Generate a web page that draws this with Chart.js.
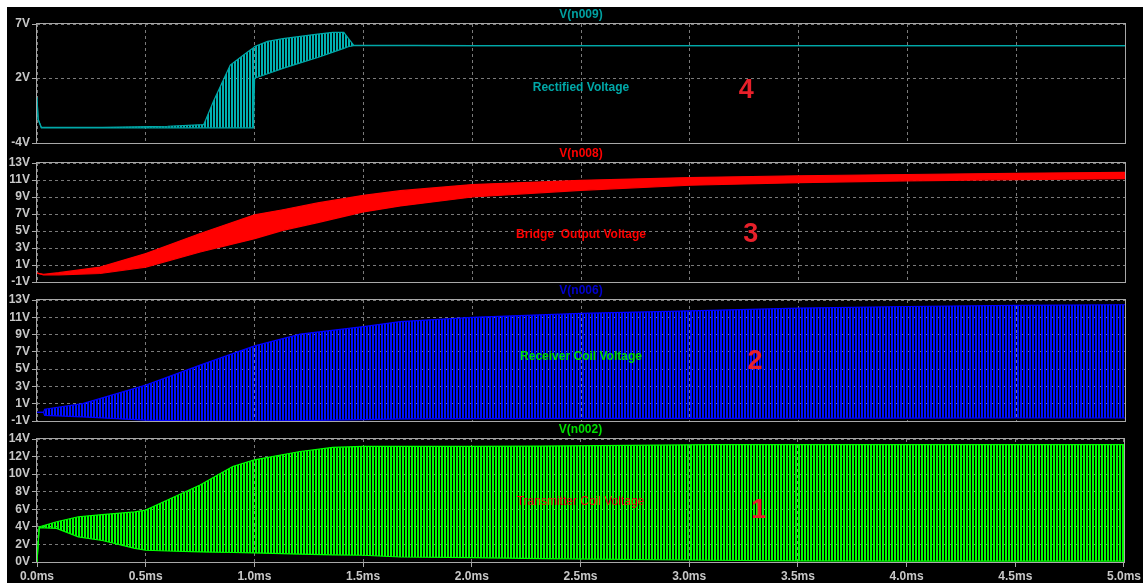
<!DOCTYPE html>
<html>
<head>
<meta charset="utf-8">
<script src="https://cdn.jsdelivr.net/npm/chart.js@4.4.1/dist/chart.umd.min.js"></script>
<style>
  html, body { margin:0; padding:0; background:#000; width:1143px; height:583px; overflow:hidden; }
  canvas { position:absolute; left:0; top:0; }
  #wt { position:absolute; left:0; top:0; width:1143px; height:7px; background:#fff; }
  #wl { position:absolute; left:0; top:0; width:7px; height:583px; background:#fff; }
</style>
</head>
<body>
<canvas id="c1" width="1143" height="583"></canvas>
<canvas id="c2" width="1143" height="583"></canvas>
<canvas id="c3" width="1143" height="583"></canvas>
<canvas id="c4" width="1143" height="583"></canvas>
<div id="wt"></div><div id="wl"></div>
<script>
// ---------- data (time in ms, values in V) ----------
const timeTicks = [0, 0.5, 1.0, 1.5, 2.0, 2.5, 3.0, 3.5, 4.0, 4.5, 5.0];

// V(n009) Rectified Voltage — envelope of the waveform
const tealT     = [0, 0.005, 0.02, 0.3, 0.6, 0.766, 0.812, 0.835, 0.888, 0.94, 0.98, 0.995, 1.0, 1.06, 1.13, 1.21, 1.29, 1.36, 1.41, 1.43, 1.455, 2.0, 3.0, 4.0, 5.0];
const tealUpper = [0.2, -1.8, -2.55, -2.55, -2.45, -2.3, -0.1, 0.9, 3.2, 4.0, 4.6, 4.8, 4.93, 5.39, 5.64, 5.85, 6.07, 6.22, 6.22, 5.7, 5.05, 5.0, 5.0, 5.0, 5.0];
const tealLower = [0.2, -1.8, -2.6, -2.6, -2.6, -2.6, -2.6, -2.6, -2.6, -2.6, -2.6, -2.6, 2.0, 2.4, 2.9, 3.4, 3.9, 4.4, 4.75, 4.9, 5.0, 5.0, 5.0, 5.0, 5.0];
const tealTicks = [-4, 2, 7];

// V(n008) Bridge Output Voltage
const redT     = [0, 0.03, 0.1, 0.29, 0.5, 0.75, 1.0, 1.13, 1.29, 1.5, 1.67, 2.0, 2.5, 3.0, 3.5, 4.0, 4.5, 5.0];
const redUpper = [0.05, -0.1, 0.1, 0.76, 2.34, 4.7, 6.9, 7.5, 8.3, 9.2, 9.75, 10.46, 10.96, 11.28, 11.5, 11.65, 11.78, 11.9];
const redLower = [0.05, -0.15, -0.15, 0.0, 0.76, 2.53, 4.1, 5.08, 5.99, 7.24, 7.95, 9.0, 9.79, 10.38, 10.69, 10.9, 11.05, 11.16];
const redTicks = [-1, 1, 3, 5, 7, 9, 11, 13];

// V(n006) Receiver Coil Voltage
const blueT     = [0, 0.03, 0.035, 0.21, 0.5, 0.75, 1.0, 1.21, 1.5, 1.67, 2.0, 2.5, 3.0, 3.5, 4.0, 4.5, 5.0];
const blueUpper = [0, 0, 0.36, 1.02, 3.15, 5.47, 7.69, 9.05, 9.93, 10.5, 11.0, 11.45, 11.75, 12.07, 12.25, 12.38, 12.45];
const blueLower = [0, 0, -0.34, -0.53, -0.9, -1.0, -1.0, -0.95, -0.85, -0.75, -0.72, -0.7, -0.7, -0.68, -0.66, -0.65, -0.65];
const blueTicks = [-1, 1, 3, 5, 7, 9, 11, 13];

// V(n002) Transmitter Coil Voltage
const greenT     = [0, 0.01, 0.09, 0.19, 0.3, 0.45, 0.5, 0.6, 0.75, 0.9, 1.0, 1.21, 1.36, 1.5, 1.67, 2.0, 2.32, 3.1, 3.5, 4.0, 5.0];
const greenUpper = [0, 4.0, 4.58, 5.15, 5.4, 5.7, 5.91, 7.06, 8.77, 10.87, 11.63, 12.58, 13.04, 13.15, 13.16, 13.16, 13.2, 13.35, 13.35, 13.35, 13.35];
const greenLower = [0, 3.9, 3.82, 2.86, 2.45, 1.55, 1.34, 1.25, 1.15, 1.08, 1.03, 0.9, 0.82, 0.77, 0.57, 0.5, 0.39, 0.2, 0.12, 0.1, 0.1];
const greenTicks = [0, 2, 4, 6, 8, 10, 12, 14];

// trace names and annotation texts (position given in chart units: ms, V)
const traceNames = ['V(n009)', 'V(n008)', 'V(n006)', 'V(n002)'];
const noteText   = ['Rectified Voltage', 'Bridge  Output Voltage', 'Receiver Coil Voltage', 'Transmitter Coil Voltage'];
const noteT      = [2.5, 2.5, 2.5, 2.5];
const noteV      = [1.1, 4.58, 6.44, 6.86];
const numText    = ['4', '3', '2', '1'];
const numT       = [3.26, 3.28, 3.30, 3.32];
const numV       = [0.83, 4.6, 5.86, 5.91];

// ---------- styling ----------
function stripes(color, period, solid) {
  const c = document.createElement('canvas');
  c.width = period; c.height = 4;
  const g = c.getContext('2d');
  g.fillStyle = color;
  g.fillRect(0, 0, solid, 4);
  return g.createPattern(c, 'repeat');
}

const panels = [
  { id:'c1', top:24,  bottom:143, min:-4, max:7,  ticks:tealTicks,  T:tealT,  U:tealUpper,  L:tealLower,
    line:'#00a8a8', fill:stripes('#00b0b0', 3, 2), title:'#00a0a0', note:'#00a8a8', noteFont:'bold 12px "Liberation Sans"' },
  { id:'c2', top:163, bottom:282, min:-1, max:13, ticks:redTicks,   T:redT,   U:redUpper,   L:redLower,
    line:'#ff0000', fill:'#ff0000', title:'#ff0000', note:'#ff0000', noteFont:'bold 12px "Liberation Sans"' },
  { id:'c3', top:300, bottom:421, min:-1, max:13, ticks:blueTicks,  T:blueT,  U:blueUpper,  L:blueLower,
    line:'#0000ff', fill:stripes('#0010ff', 3, 2), title:'#0000d0', note:'#00e000', noteFont:'bold 12px "Liberation Sans"' },
  { id:'c4', top:439, bottom:562, min:0,  max:14, ticks:greenTicks, T:greenT, U:greenUpper, L:greenLower,
    line:'#00ff00', fill:stripes('#00ff00', 3, 2), title:'#00e000', note:'#ee1010', noteFont:'12px "Liberation Sans"' },
];

const LABEL_FONT = { family:'Liberation Sans', size:12, weight:'bold' };
const GRID_COL = '#7a7a7a';
const FRAME_COL = '#a8a8a8';

panels.forEach((p, i) => {
  const last = (i === panels.length - 1);
  const upper = p.T.map((t, k) => ({ x:t, y:p.U[k] }));
  const lower = p.T.map((t, k) => ({ x:t, y:p.L[k] }));

  function drawNotes(chart) {
    const ctx = chart.ctx, xs = chart.scales.x, ys = chart.scales.y;
    ctx.save();
    ctx.textAlign = 'center'; ctx.textBaseline = 'middle';
    ctx.fillStyle = p.note;
    ctx.font = p.noteFont;
    ctx.fillText(noteText[i], xs.getPixelForValue(noteT[i]), ys.getPixelForValue(noteV[i]));
    ctx.fillStyle = '#e8202a';
    ctx.font = 'bold 27px "Liberation Sans"';
    ctx.fillText(numText[i], xs.getPixelForValue(numT[i]), ys.getPixelForValue(numV[i]));
    ctx.restore();
  }

  const deco = {
    id:'deco' + i,
    afterDatasetsDraw(chart) { drawNotes(chart); },
    afterDraw(chart) {
      const a = chart.chartArea, ctx = chart.ctx;
      ctx.save();
      ctx.strokeStyle = FRAME_COL; ctx.lineWidth = 1;
      ctx.strokeRect(Math.round(a.left) - 0.5, Math.round(a.top) - 0.5, Math.round(a.right - a.left) + 1, Math.round(a.bottom - a.top) + 1);
      ctx.fillStyle = p.title;
      ctx.font = 'bold 12px "Liberation Sans"';
      ctx.textAlign = 'center'; ctx.textBaseline = 'middle';
      ctx.fillText(traceNames[i], (a.left + a.right) / 2, a.top - 9);
      ctx.restore();
    }
  };

  new Chart(document.getElementById(p.id), {
    type:'line',
    data:{ datasets:[
      { data:upper, borderColor:p.line, borderWidth:1.2, pointRadius:0, fill:false, tension:0 },
      { data:lower, borderColor:p.line, borderWidth:1.2, pointRadius:0, fill:'-1', backgroundColor:p.fill, tension:0 }
    ]},
    options:{
      responsive:false, animation:false, devicePixelRatio:1,
      layout:{ padding:{ left:0, right:18, top:p.top, bottom: last ? 0 : 583 - p.bottom } },
      plugins:{ legend:{display:false}, tooltip:{enabled:false}, title:{display:false} },
      scales:{
        x:{ type:'linear', min:0, max:5,
            afterBuildTicks:(s) => { s.ticks = timeTicks.map(v => ({ value:v })); },
            afterFit:(s) => { s.height = last ? 21 : 0; },
            ticks:{ display:last, color:'#c8c8c8', font:LABEL_FONT, padding:2, maxRotation:0, autoSkip:false,
                    callback:(v) => Number(v).toFixed(1) + 'ms' },
            grid:{ color:GRID_COL, lineWidth:1, drawTicks:last, tickLength:5, tickColor:FRAME_COL, tickBorderDash:[] },
            border:{ display:false, dash:[3,3] } },
        y:{ type:'linear', min:p.min, max:p.max,
            afterBuildTicks:(s) => { s.ticks = p.ticks.map(v => ({ value:v })); },
            afterFit:(s) => { s.width = 37; },
            ticks:{ color:'#c8c8c8', font:LABEL_FONT, padding:2, autoSkip:false,
                    callback:(v) => v + 'V' },
            grid:{ color:GRID_COL, lineWidth:1, drawTicks:true, tickLength:5, tickColor:FRAME_COL, tickBorderDash:[] },
            border:{ display:false, dash:[3,3] } }
      }
    },
    plugins:[deco]
  });
});
</script>
</body>
</html>
